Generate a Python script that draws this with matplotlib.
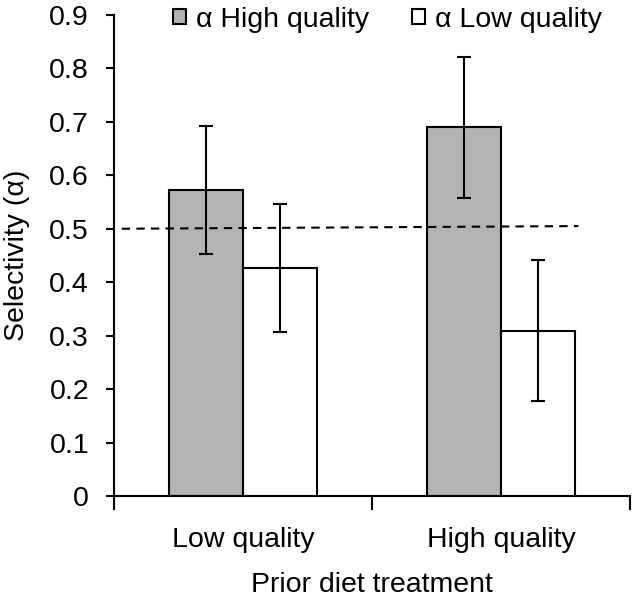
import numpy as np
import matplotlib
matplotlib.use("Agg")
import matplotlib.pyplot as plt

# Data
categories = ["Low quality", "High quality"]
high_alpha = [0.572, 0.690]
high_err = [0.120, 0.132]
low_alpha = [0.427, 0.309]
low_err = [0.120, 0.132]
ref_x = [-0.47, 1.30]
ref_y = [0.500, 0.505]

plt.rcParams["font.family"] = ["Liberation Sans", "DejaVu Sans"]
FS = 20.5

fig = plt.figure(figsize=(6.37, 6.09), dpi=100)
ax = fig.add_axes([0.179, 0.1856, 0.81, 0.7898])

x = np.arange(len(categories))
w = 0.287

ax.bar(x - w / 2, high_alpha, w, color="#b3b3b3", edgecolor="black", linewidth=1.5,
       label="α High quality", zorder=2)
ax.bar(x + w / 2, low_alpha, w, color="white", edgecolor="black", linewidth=1.5,
       label="α Low quality", zorder=2)
ax.errorbar(x - w / 2, high_alpha, yerr=high_err, fmt="none", ecolor="black",
            elinewidth=1.5, capsize=5, capthick=1.5, zorder=3)
ax.errorbar(x + w / 2, low_alpha, yerr=low_err, fmt="none", ecolor="black",
            elinewidth=1.5, capsize=5, capthick=1.5, zorder=3)

# reference line for no preference
ax.plot(ref_x, ref_y, color="black", linestyle=(0, (4, 3)), linewidth=1.5,
        clip_on=False, zorder=4)

ax.set_xlim(-0.5, 1.5)
ax.set_ylim(0, 0.9)
ax.set_yticks(np.arange(0, 0.91, 0.1))
ax.set_yticklabels(["0"] + [f"{v:.1f}" for v in np.arange(0.1, 0.91, 0.1)])
ax.set_xticks([-0.5, 0.5, 1.5])
ax.set_xticklabels([])
ax.set_xticks(x, minor=True)
ax.set_xticklabels(categories, minor=True)
ax.tick_params(axis="x", which="major", direction="out", length=10, width=1.5)
ax.tick_params(axis="x", which="minor", length=0, pad=22, labelsize=FS)
ax.tick_params(axis="y", direction="out", length=6, width=1.5, labelsize=FS, pad=12)

for side in ["top", "right"]:
    ax.spines[side].set_visible(False)
for side in ["left", "bottom"]:
    ax.spines[side].set_linewidth(1.5)

ax.set_ylabel("Selectivity (α)", fontsize=FS, labelpad=14)
ax.set_xlabel("Prior diet treatment", fontsize=FS, labelpad=14)

ax.legend(loc="upper center", bbox_to_anchor=(0.53, 1.07), ncol=2, frameon=False,
          fontsize=FS, handlelength=0.45, handleheight=0.45, handletextpad=0.35,
          columnspacing=1.5)

fig.savefig("out.png", dpi=100)
